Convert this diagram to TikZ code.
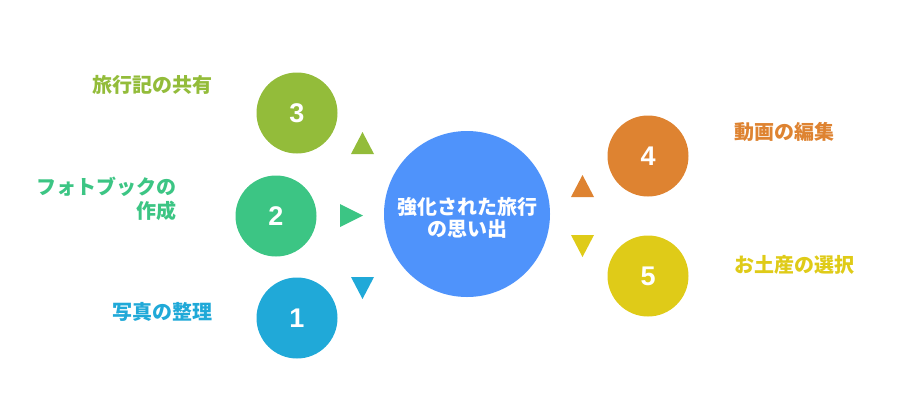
\documentclass[tikz,border=0pt]{standalone}
\usepackage{fontspec}
\setmainfont{Noto Sans CJK JP}
\newfontfamily\numfont{Liberation Sans}
\definecolor{cOne}{HTML}{20A9D8}
\definecolor{cTwo}{HTML}{3CC584}
\definecolor{cThree}{HTML}{93BC3A}
\definecolor{cFour}{HTML}{DE8331}
\definecolor{cFive}{HTML}{DFCB18}
\definecolor{cMain}{HTML}{4F93FB}
\tikzset{
  numcirc/.style={circle, minimum size=81pt, inner sep=0pt, text=white, font=\numfont\bfseries\fontsize{27}{27}\selectfont},
  maincirc/.style={circle, minimum size=166pt, inner sep=0pt, fill=cMain},
  lbl/.style={inner sep=0pt, font=\bfseries\fontsize{20}{24}\selectfont},
}
\begin{document}
\begin{tikzpicture}[x=1pt,y=-1pt]
\useasboundingbox (0,0) rectangle (912,408);
% circles
\node[maincirc] (main) at (467,214) {};
\node[inner sep=0pt, align=center, text=white, font=\bfseries\fontsize{20}{22}\selectfont] (maintxt) at (467,217.5) {強化された旅行\\の思い出};
\node[numcirc, fill=cThree] (n3) at (297,113) {3};
\node[numcirc, fill=cTwo] (n2) at (276,216) {2};
\node[numcirc, fill=cOne] (n1) at (297,318) {1};
\node[numcirc, fill=cFour] (n4) at (648,156) {4};
\node[numcirc, fill=cFive] (n5) at (648,276) {5};
% labels
\node[lbl, text=cThree, anchor=east] (l3) at (213,85) {旅行記の共有};
\node[lbl, text=cTwo, anchor=east, align=right] (l2) at (177,199) {フォトブックの\\作成};
\node[lbl, text=cOne, anchor=east] (l1) at (213,312) {写真の整理};
\node[lbl, text=cFour, anchor=west] (l4) at (734,132) {動画の編集};
\node[lbl, text=cFive, anchor=west] (l5) at (734,265) {お土産の選択};
% triangles
\fill[cThree] (362.5,132) -- (374,154) -- (351,154) -- cycle;
\fill[cTwo] (363,215.5) -- (340,204) -- (340,227) -- cycle;
\fill[cOne] (362.5,299) -- (374,277) -- (351,277) -- cycle;
\fill[cFour] (582.5,175) -- (594,197) -- (571,197) -- cycle;
\fill[cFive] (582.5,257) -- (594,235) -- (571,235) -- cycle;
\end{tikzpicture}
\end{document}
